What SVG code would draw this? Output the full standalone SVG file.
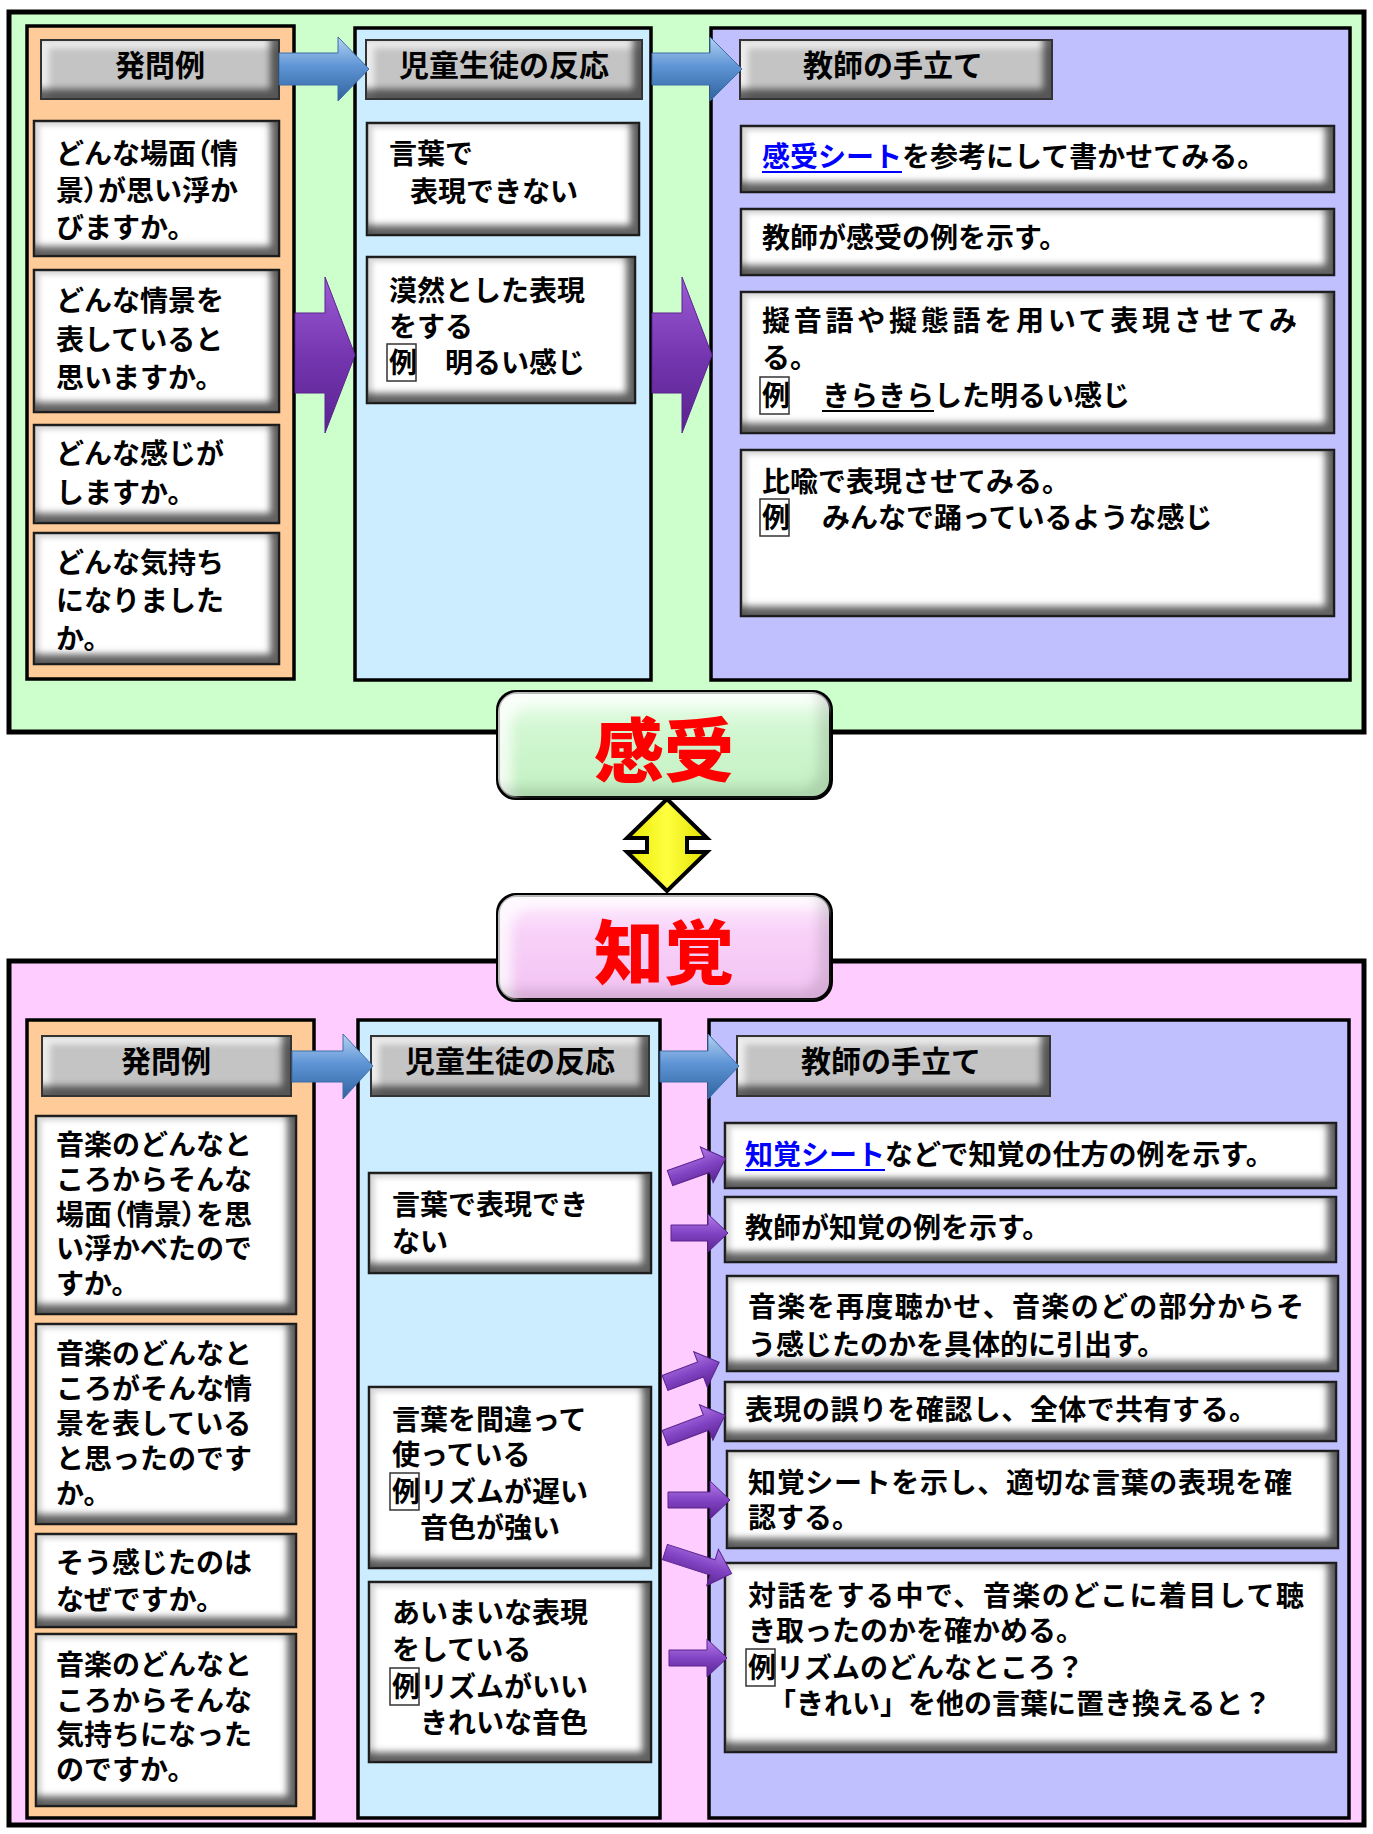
<svg xmlns="http://www.w3.org/2000/svg" width="1373" height="1834" viewBox="0 0 1373 1834">
<style>
.t{font-family:"Noto Sans CJK JP","Noto Sans CJK SC",sans-serif;font-size:28px;font-weight:700;fill:#000}
.h{text-anchor:middle;font-size:30px}
.p{font-feature-settings:"palt" 1}
.lk{fill:#0000FF}
.ul{stroke:#0000FF;stroke-width:2}
.ulk{stroke:#000;stroke-width:1.8}
.big{font-family:"Noto Sans CJK JP","Noto Sans CJK SC",sans-serif;font-size:70px;font-weight:900;fill:#FF0000;text-anchor:middle}
.outer{stroke:#000;stroke-width:5}
.col{stroke:#000;stroke-width:3.5}
.wb{fill:#fff;stroke:#1a1a1a;stroke-width:2.5;filter:url(#bev)}
.hd{fill:#C4C4C4;stroke:#333;stroke-width:2;filter:url(#bevg)}
.ex{fill:#fff;stroke:#333;stroke-width:1.5}
.ba{fill:url(#gBlue);stroke:#3d6fa8;stroke-width:1}
.pa{fill:url(#gPurple);stroke:#5a2390;stroke-width:1}
.sa{fill:url(#gPurpleS);stroke:#5a2390;stroke-width:1}
.ya{fill:url(#gYellow);stroke:#000;stroke-width:4;stroke-linejoin:miter}
.rb{stroke:#000;stroke-width:4;filter:url(#bevr)}
</style>
<defs>
<linearGradient id="gBlue" x1="0" y1="0" x2="0" y2="1">
<stop offset="0" stop-color="#B5D2F0"/><stop offset="0.45" stop-color="#5F95D6"/><stop offset="1" stop-color="#2F629E"/>
</linearGradient>
<linearGradient id="gPurple" x1="0" y1="0" x2="0" y2="1">
<stop offset="0" stop-color="#9D5CD6"/><stop offset="0.5" stop-color="#7536B0"/><stop offset="1" stop-color="#5A2290"/>
</linearGradient>
<linearGradient id="gPurpleS" x1="0" y1="0" x2="0" y2="1">
<stop offset="0" stop-color="#B47EE8"/><stop offset="0.5" stop-color="#8244C4"/><stop offset="1" stop-color="#5A2390"/>
</linearGradient>
<linearGradient id="gYellow" x1="0" y1="0" x2="1" y2="0">
<stop offset="0" stop-color="#E8E800"/><stop offset="0.5" stop-color="#FFFF40"/><stop offset="1" stop-color="#E0E000"/>
</linearGradient>
<linearGradient id="gGreen" x1="0" y1="0" x2="0" y2="1">
<stop offset="0" stop-color="#F2FFF2"/><stop offset="0.35" stop-color="#D2F7D2"/><stop offset="1" stop-color="#C2F0C2"/>
</linearGradient>
<linearGradient id="gPink" x1="0" y1="0" x2="0" y2="1">
<stop offset="0" stop-color="#FFF0FF"/><stop offset="0.35" stop-color="#F8D2F8"/><stop offset="1" stop-color="#F2C2F2"/>
</linearGradient>
<filter id="bev" x="-2%" y="-5%" width="104%" height="110%" color-interpolation-filters="sRGB">
<feMorphology in="SourceAlpha" operator="erode" radius="1.5" result="a"/>
<feOffset in="a" dx="-8" dy="-9" result="o"/>
<feGaussianBlur in="o" stdDeviation="3.5" result="ob"/>
<feComposite in="a" in2="ob" operator="out" result="e"/>
<feFlood flood-color="#3a3a3a" flood-opacity="0.8"/>
<feComposite in2="e" operator="in" result="sh"/>
<feOffset in="a" dx="5" dy="4" result="o2"/>
<feGaussianBlur in="o2" stdDeviation="2.5" result="ob2"/>
<feComposite in="a" in2="ob2" operator="out" result="e2"/>
<feFlood flood-color="#8a8a8a" flood-opacity="0.35"/>
<feComposite in2="e2" operator="in" result="hl"/>
<feMerge><feMergeNode in="SourceGraphic"/><feMergeNode in="hl"/><feMergeNode in="sh"/></feMerge>
</filter>
<filter id="bevg" x="-2%" y="-5%" width="104%" height="110%" color-interpolation-filters="sRGB">
<feMorphology in="SourceAlpha" operator="erode" radius="1.5" result="a"/>
<feOffset in="a" dx="-8" dy="-9" result="o"/>
<feGaussianBlur in="o" stdDeviation="3.5" result="ob"/>
<feComposite in="a" in2="ob" operator="out" result="e"/>
<feFlood flood-color="#303030" flood-opacity="0.75"/>
<feComposite in2="e" operator="in" result="sh"/>
<feOffset in="a" dx="7" dy="7" result="o2"/>
<feGaussianBlur in="o2" stdDeviation="3" result="ob2"/>
<feComposite in="a" in2="ob2" operator="out" result="e2"/>
<feFlood flood-color="#ffffff" flood-opacity="0.7"/>
<feComposite in2="e2" operator="in" result="hl"/>
<feMerge><feMergeNode in="SourceGraphic"/><feMergeNode in="hl"/><feMergeNode in="sh"/></feMerge>
</filter>
<filter id="bevr" x="-2%" y="-5%" width="104%" height="110%" color-interpolation-filters="sRGB">
<feMorphology in="SourceAlpha" operator="erode" radius="2" result="a"/>
<feOffset in="a" dx="14" dy="12" result="o2"/>
<feGaussianBlur in="o2" stdDeviation="6" result="ob2"/>
<feComposite in="a" in2="ob2" operator="out" result="e2"/>
<feFlood flood-color="#ffffff" flood-opacity="0.75"/>
<feComposite in2="e2" operator="in" result="hl"/>
<feOffset in="a" dx="-12" dy="-10" result="o"/>
<feGaussianBlur in="o" stdDeviation="6" result="ob"/>
<feComposite in="a" in2="ob" operator="out" result="e"/>
<feFlood flood-color="#000000" flood-opacity="0.12"/>
<feComposite in2="e" operator="in" result="sh"/>
<feMerge><feMergeNode in="SourceGraphic"/><feMergeNode in="hl"/><feMergeNode in="sh"/></feMerge>
</filter>
</defs>

<!-- ===== 感受 section ===== -->
<g id="section-kanju">
<rect class="outer" x="9" y="12" width="1355" height="720" fill="#CCFFCC"/>
<rect class="col" x="27" y="26" width="267" height="653" fill="#FFCC99"/>
<rect class="col" x="355" y="28" width="296" height="652" fill="#CCECFF"/>
<rect class="col" x="711" y="28" width="639" height="652" fill="#C0C0FF"/>
</g>

<g id="k-h1"><rect class="hd" x="41" y="40" width="238" height="59"/><text class="t h" x="160" y="76">発問例</text></g>
<g id="k-h2"><rect class="hd" x="366" y="40" width="276" height="59"/><text class="t h" x="504" y="76">児童生徒の反応</text></g>
<g id="k-h3"><rect class="hd" x="740" y="40" width="312" height="59"/><text class="t h" x="893" y="76">教師の手立て</text></g>

<g id="k-q1"><rect class="wb" x="34" y="121" width="245" height="135"/>
<text class="t" x="56" y="164">どんな場面<tspan class="p">（</tspan>情</text><text class="t" x="56" y="201">景<tspan class="p">）</tspan>が思い浮か</text><text class="t" x="56" y="238">びますか。</text></g>
<g id="k-q2"><rect class="wb" x="34" y="270" width="245" height="142"/>
<text class="t" x="56" y="311">どんな情景を</text><text class="t" x="56" y="350">表していると</text><text class="t" x="56" y="388">思いますか。</text></g>
<g id="k-q3"><rect class="wb" x="34" y="425" width="245" height="98"/>
<text class="t" x="56" y="464">どんな感じが</text><text class="t" x="56" y="503">しますか。</text></g>
<g id="k-q4"><rect class="wb" x="34" y="533" width="245" height="131"/>
<text class="t" x="56" y="573">どんな気持ち</text><text class="t" x="56" y="611">になりました</text><text class="t" x="56" y="649">か。</text></g>

<g id="k-r1"><rect class="wb" x="367" y="123" width="272" height="112"/>
<text class="t" x="389" y="164">言葉で</text><text class="t" x="410" y="202">表現できない</text></g>
<g id="k-r2"><rect class="wb" x="367" y="257" width="268" height="146"/>
<text class="t" x="389" y="301">漠然とした表現</text><text class="t" x="389" y="337">をする</text>
<rect class="ex" x="387" y="344" width="29" height="37"/><text class="t" x="389" y="373">例</text><text class="t" x="445" y="373">明るい感じ</text></g>

<g id="k-s1"><rect class="wb" x="741" y="126" width="593" height="66"/>
<text class="t" x="762" y="167"><tspan class="lk">感受シート</tspan>を参考にして書かせてみる。</text>
<line class="ul" x1="762" y1="172" x2="902" y2="172"/></g>
<g id="k-s2"><rect class="wb" x="741" y="209" width="593" height="66"/>
<text class="t" x="762" y="248">教師が感受の例を示す。</text></g>
<g id="k-s3"><rect class="wb" x="741" y="292" width="593" height="141"/>
<text class="t" x="762" y="331" textLength="535" lengthAdjust="spacing">擬音語や擬態語を用いて表現させてみ</text>
<text class="t" x="762" y="368">る。</text>
<rect class="ex" x="760" y="377" width="29" height="37"/><text class="t" x="762" y="406">例</text>
<text class="t" x="822" y="406">きらきらした明るい感じ</text>
<line class="ulk" x1="822" y1="411" x2="934" y2="411"/></g>
<g id="k-s4"><rect class="wb" x="741" y="450" width="593" height="166"/>
<text class="t" x="762" y="492">比喩で表現させてみる。</text>
<rect class="ex" x="760" y="499" width="29" height="37"/><text class="t" x="762" y="528">例</text>
<text class="t" x="822" y="528">みんなで踊っているような感じ</text></g>

<!-- ===== 知覚 section ===== -->
<g id="section-chikaku">
<rect class="outer" x="9" y="961" width="1355" height="864" fill="#FFCCFF"/>
<rect class="col" x="27" y="1020" width="287" height="798" fill="#FFCC99"/>
<rect class="col" x="358" y="1020" width="302" height="798" fill="#CCECFF"/>
<rect class="col" x="709" y="1020" width="640" height="798" fill="#C0C0FF"/>
</g>

<g id="c-h1"><rect class="hd" x="42" y="1036" width="249" height="60"/><text class="t h" x="166" y="1072">発問例</text></g>
<g id="c-h2"><rect class="hd" x="371" y="1036" width="278" height="60"/><text class="t h" x="510" y="1072">児童生徒の反応</text></g>
<g id="c-h3"><rect class="hd" x="737" y="1036" width="313" height="60"/><text class="t h" x="891" y="1072">教師の手立て</text></g>

<g id="c-q1"><rect class="wb" x="36" y="1116" width="260" height="198"/>
<text class="t" x="56" y="1155">音楽のどんなと</text><text class="t" x="56" y="1190">ころからそんな</text><text class="t" x="56" y="1225">場面<tspan class="p">（</tspan>情景<tspan class="p">）</tspan>を思</text><text class="t" x="56" y="1259">い浮かべたので</text><text class="t" x="56" y="1294">すか。</text></g>
<g id="c-q2"><rect class="wb" x="36" y="1324" width="260" height="200"/>
<text class="t" x="56" y="1364">音楽のどんなと</text><text class="t" x="56" y="1399">ころがそんな情</text><text class="t" x="56" y="1434">景を表している</text><text class="t" x="56" y="1469">と思ったのです</text><text class="t" x="56" y="1504">か。</text></g>
<g id="c-q3"><rect class="wb" x="36" y="1534" width="260" height="93"/>
<text class="t" x="56" y="1573">そう感じたのは</text><text class="t" x="56" y="1610">なぜですか。</text></g>
<g id="c-q4"><rect class="wb" x="36" y="1634" width="260" height="172"/>
<text class="t" x="56" y="1675">音楽のどんなと</text><text class="t" x="56" y="1711">ころからそんな</text><text class="t" x="56" y="1745">気持ちになった</text><text class="t" x="56" y="1780">のですか。</text></g>

<g id="c-r1"><rect class="wb" x="369" y="1173" width="282" height="100"/>
<text class="t" x="392" y="1215">言葉で表現でき</text><text class="t" x="392" y="1252">ない</text></g>
<g id="c-r2"><rect class="wb" x="369" y="1387" width="282" height="181"/>
<text class="t" x="392" y="1430">言葉を間違って</text><text class="t" x="392" y="1465">使っている</text>
<rect class="ex" x="390" y="1473" width="29" height="37"/><text class="t" x="392" y="1502">例</text><text class="t" x="420" y="1502">リズムが遅い</text>
<text class="t" x="420" y="1538">音色が強い</text></g>
<g id="c-r3"><rect class="wb" x="369" y="1582" width="282" height="180"/>
<text class="t" x="392" y="1623">あいまいな表現</text><text class="t" x="392" y="1660">をしている</text>
<rect class="ex" x="390" y="1668" width="29" height="37"/><text class="t" x="392" y="1697">例</text><text class="t" x="420" y="1697">リズムがいい</text>
<text class="t" x="420" y="1733">きれいな音色</text></g>

<g id="c-s1"><rect class="wb" x="725" y="1123" width="611" height="65"/>
<text class="t" x="745" y="1165"><tspan class="lk">知覚シート</tspan>などで知覚の仕方の例を示す。</text>
<line class="ul" x1="745" y1="1170" x2="885" y2="1170"/></g>
<g id="c-s2"><rect class="wb" x="725" y="1197" width="611" height="65"/>
<text class="t" x="745" y="1238">教師が知覚の例を示す。</text></g>
<g id="c-s3"><rect class="wb" x="727" y="1276" width="611" height="95"/>
<text class="t" x="748" y="1317" textLength="556" lengthAdjust="spacing">音楽を再度聴かせ、音楽のどの部分からそ</text>
<text class="t" x="748" y="1355">う感じたのかを具体的に引出す。</text></g>
<g id="c-s4"><rect class="wb" x="725" y="1382" width="611" height="59"/>
<text class="t" x="745" y="1420" textLength="512" lengthAdjust="spacing">表現の誤りを確認し、全体で共有する。</text></g>
<g id="c-s5"><rect class="wb" x="727" y="1451" width="611" height="97"/>
<text class="t" x="748" y="1493" textLength="544" lengthAdjust="spacing">知覚シートを示し、適切な言葉の表現を確</text>
<text class="t" x="748" y="1528">認する。</text></g>
<g id="c-s6"><rect class="wb" x="725" y="1563" width="611" height="189"/>
<text class="t" x="748" y="1606" textLength="556" lengthAdjust="spacing">対話をする中で、音楽のどこに着目して聴</text>
<text class="t" x="748" y="1641">き取ったのかを確かめる。</text>
<rect class="ex" x="746" y="1649" width="29" height="37"/><text class="t" x="748" y="1678">例</text><text class="t" x="776" y="1678">リズムのどんなところ？</text>
<text class="t" x="768" y="1714">「きれい」を他の言葉に置き換えると？</text></g>

<!-- ===== connectors ===== -->
<g id="connectors">
<polygon class="ba" points="279,53 338,53 338,37 369,69 338,101 338,85 279,85"/>
<polygon class="ba" points="652,53 710,53 710,37 742,69 710,101 710,85 652,85"/>
<polygon class="ba" points="292,1051 343,1051 343,1034 373,1066 343,1099 343,1082 292,1082"/>
<polygon class="ba" points="660,1051 708,1051 708,1034 739,1066 708,1099 708,1082 660,1082"/>
<polygon class="pa" points="295,313 325,313 325,277 355,355 325,433 325,393 295,393"/>
<polygon class="pa" points="652,313 682,313 682,277 712,355 682,433 682,393 652,393"/>
<path class="sa" transform="translate(670,1178) rotate(-19.6)" d="M0,-8 H39 V-19 L59,0 L39,19 V8 H0 Z"/>
<path class="sa" transform="translate(671,1233)" d="M0,-8 H37 V-19 L57,0 L37,19 V8 H0 Z"/>
<path class="sa" transform="translate(665,1383) rotate(-20.9)" d="M0,-8 H38 V-19 L58,0 L38,19 V8 H0 Z"/>
<path class="sa" transform="translate(665,1438) rotate(-20.7)" d="M0,-8 H44 V-19 L64,0 L44,19 V8 H0 Z"/>
<path class="sa" transform="translate(668,1500)" d="M0,-8 H42 V-19 L62,0 L42,19 V8 H0 Z"/>
<path class="sa" transform="translate(665,1552) rotate(18)" d="M0,-8 H50 V-19 L70,0 L50,19 V8 H0 Z"/>
<path class="sa" transform="translate(669,1658)" d="M0,-8 H38 V-19 L58,0 L38,19 V8 H0 Z"/>
<polygon class="ya" points="667,799 707,838 687,838 687,852 707,852 667,891 627,852 647,852 647,838 627,838"/>
</g>

<g id="label-kanju"><rect class="rb" x="498" y="692" width="333" height="106" rx="18" fill="url(#gGreen)"/><text class="big" x="664" y="777">感受</text></g>
<g id="label-chikaku"><rect class="rb" x="498" y="895" width="333" height="105" rx="18" fill="url(#gPink)"/><text class="big" x="664" y="979">知覚</text></g>
</svg>
